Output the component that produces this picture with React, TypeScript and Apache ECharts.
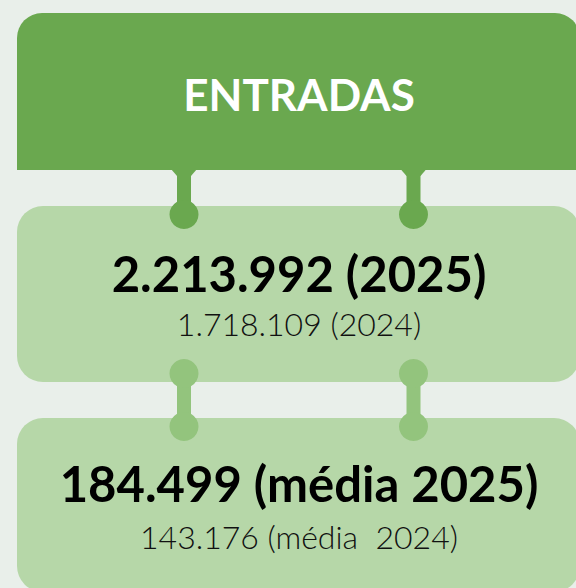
import React, { useEffect, useRef } from "react";
import * as echarts from "echarts";

const titles: string[] = ["ENTRADAS"];
const mainValues: string[] = ["2.213.992 (2025)", "184.499 (média 2025)"];
const prevValues: string[] = ["1.718.109 (2024)", "143.176 (média  2024)"];

const BG = "#E9EFEA";
const DARK = "#6AA84F";
const MID = "#B6D7A8";
const LIGHT = "#93C47D";

export default function App() {
  const ref = useRef<HTMLDivElement>(null);
  useEffect(() => {
    document.body.style.margin = "0";
    if (!ref.current) return;
    const chart = echarts.init(ref.current, null, { renderer: "svg" });
    const cx = 299;
    const stems = [184, 413.5];
    const graphic: any[] = [];
    graphic.push({
      type: "rect",
      shape: { x: 17, y: 13, width: 563, height: 157, r: [25, 25, 0, 0] },
      style: { fill: DARK },
    });
    graphic.push({
      type: "rect",
      shape: { x: 17, y: 206, width: 563, height: 176, r: 26 },
      style: { fill: MID },
    });
    graphic.push({
      type: "rect",
      shape: { x: 17, y: 418, width: 563, height: 174, r: 26 },
      style: { fill: MID },
    });
    stems.forEach((sx) => {
      graphic.push({
        type: "polygon",
        shape: { points: [[sx - 13, 169], [sx + 13, 169], [sx + 7, 176], [sx - 7, 176]] },
        style: { fill: DARK },
      });
      graphic.push({
        type: "rect",
        shape: { x: sx - 7, y: 169, width: 14, height: 45 },
        style: { fill: DARK },
      });
      graphic.push({
        type: "circle",
        shape: { cx: sx, cy: 214.5, r: 14.5 },
        style: { fill: DARK },
      });
      graphic.push({
        type: "rect",
        shape: { x: sx - 7, y: 373, width: 14, height: 54 },
        style: { fill: LIGHT },
      });
      graphic.push({
        type: "circle",
        shape: { cx: sx, cy: 373.5, r: 14.5 },
        style: { fill: LIGHT },
      });
      graphic.push({
        type: "circle",
        shape: { cx: sx, cy: 426.5, r: 14.5 },
        style: { fill: LIGHT },
      });
    });
    graphic.push({
      type: "text",
      x: cx,
      y: 94,
      style: {
        text: titles[0],
        fill: "#ffffff",
        font: "bold 44px Lato",
        align: "center",
        verticalAlign: "middle",
      },
    });
    const mainY = [273, 483];
    const prevY = [323, 536];
    mainValues.forEach((t, i) => {
      graphic.push({
        type: "text",
        x: cx,
        y: mainY[i],
        style: {
          text: t,
          fill: "#000000",
          font: "bold 49px Lato",
          align: "center",
          verticalAlign: "middle",
        },
      });
      graphic.push({
        type: "text",
        x: cx,
        y: prevY[i],
        style: {
          text: prevValues[i],
          fill: "#111111",
          font: "300 32px Lato",
          align: "center",
          verticalAlign: "middle",
        },
      });
    });
    chart.setOption({ animation: false, backgroundColor: BG, graphic });
    return () => chart.dispose();
  }, []);
  return (
    <div
      ref={ref}
      style={{ width: 576, height: 588, position: "absolute", left: 0, top: 0 }}
    />
  );
}
